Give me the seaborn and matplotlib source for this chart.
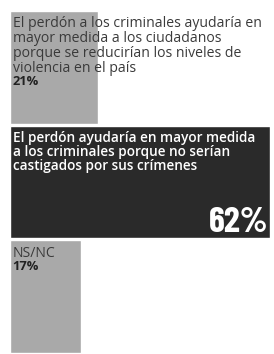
import matplotlib
matplotlib.use("Agg")
import matplotlib.pyplot as plt
import seaborn as sns
import pandas as pd

# Data
labels = [
    "El perdón a los criminales ayudaría en\nmayor medida a los ciudadanos\nporque se reducirían los niveles de\nviolencia en el país",
    "El perdón ayudaría en mayor medida\na los criminales porque no serían\ncastigados por sus crímenes",
    "NS/NC",
]
values = [21, 62, 17]
bar_colors = ["#a9a9a9", "#2a2a2a", "#a9a9a9"]
text_colors = ["#3a3a3a", "#ffffff", "#3a3a3a"]

df = pd.DataFrame({"option": ["a", "b", "c"], "pct": values})

sns.set_style("white")
plt.rcParams["font.family"] = ["Open Sans", "DejaVu Sans"]

fig = plt.figure(figsize=(2.74, 3.54), dpi=100)
ax = fig.add_axes([10 / 274, 0, 260 / 274, 344 / 354])

sns.barplot(data=df, x="pct", y="option", hue="option", palette=bar_colors,
            orient="h", width=0.98, legend=False, ax=ax)

ax.set_xlim(0, 62)
ax.set_ylim(2.5, -0.5)
ax.axis("off")

pitch = 14.8 / 114.7  # one text line in data units
for i, (lab, v) in enumerate(zip(labels, values)):
    top = i - 0.445
    weight = "semibold" if i == 1 else "normal"
    ax.text(0.6, top, lab, color=text_colors[i],
            fontsize=10.1 if i != 1 else 9.8,
            fontweight=weight, va="top", ha="left", linespacing=0.98)
    if i == 1:
        ax.text(61.7, i + 0.435, f"{v}%", color="white", fontsize=26,
                fontweight="bold", va="baseline", ha="right",
                family=["Barlow Condensed", "DejaVu Sans"])
    else:
        nlines = lab.count("\n") + 1
        ax.text(0.6, top + nlines * pitch, f"{v}%", color="#222222",
                fontsize=9.3, fontweight="bold", va="top", ha="left")

fig.savefig("out.png", dpi=100)
